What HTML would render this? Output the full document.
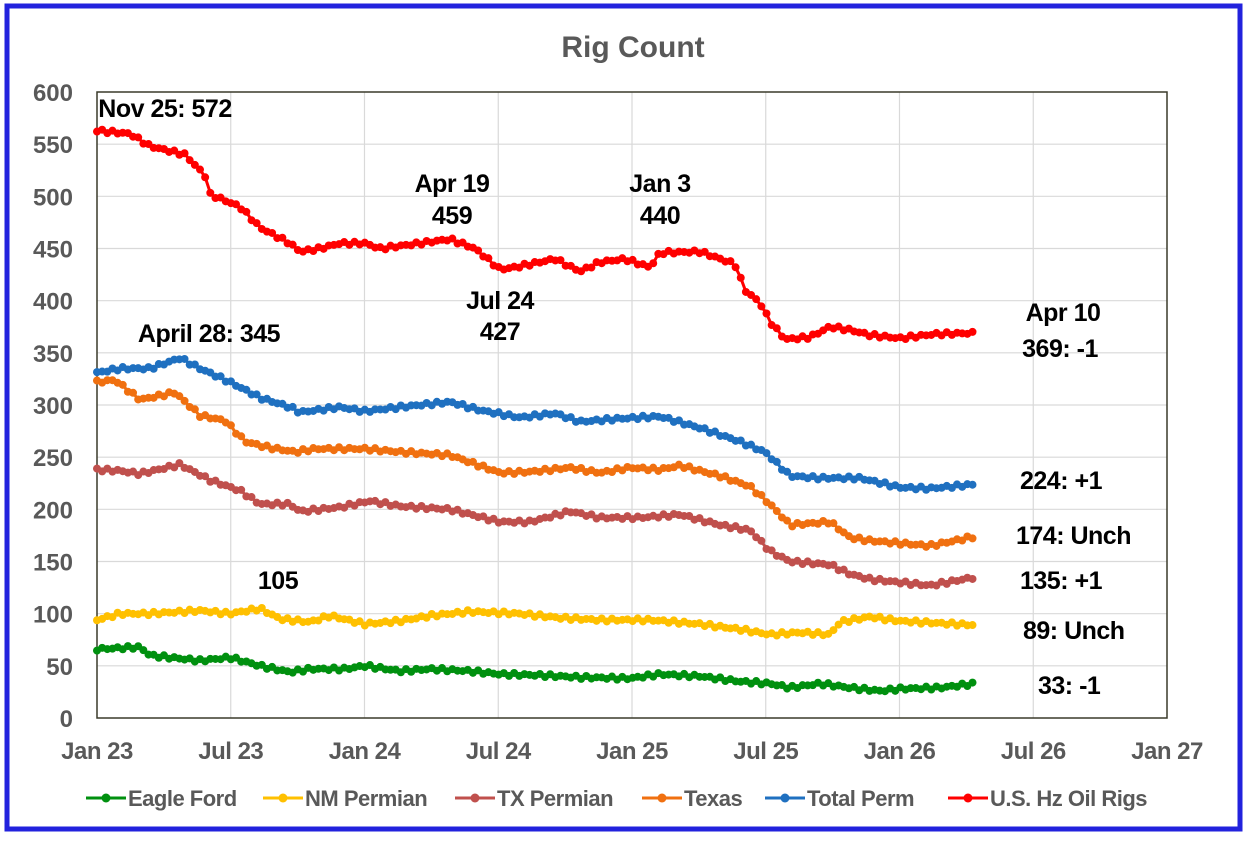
<!DOCTYPE html><html><head><style>body{margin:0;background:#fff}svg{display:block}text{font-family:"Liberation Sans",Arial,sans-serif;font-weight:bold}</style></head><body>
<svg id="s" width="1254" height="842" xmlns="http://www.w3.org/2000/svg">
<rect x="0" y="0" width="1254" height="842" fill="#fff"/>
<rect x="7" y="6" width="1233" height="823" fill="none" stroke="#2222dd" stroke-width="5"/>
<text x="633" y="57" font-size="30" fill="#595959" text-anchor="middle">Rig Count</text>
<g id="grid"></g>
<rect x="97" y="92" width="1070" height="626" fill="none" stroke="#3a3a2a" stroke-width="1.5"/>
<g id="series"></g>
<g font-size="25" fill="#000" text-anchor="middle" letter-spacing="-0.5">
<text x="165" y="117">Nov 25: 572</text>
<text x="209" y="342">April 28: 345</text>
<text x="452" y="192">Apr 19</text><text x="452" y="224">459</text>
<text x="500" y="309">Jul 24</text><text x="500" y="340">427</text>
<text x="660" y="192">Jan 3</text><text x="660" y="224">440</text>
<text x="278" y="589">105</text>
<text x="1063" y="321">Apr 10</text><text x="1060" y="357">369: -1</text>
</g>
<g font-size="25" fill="#000" letter-spacing="-0.5">
<text x="1020" y="489">224: +1</text>
<text x="1016" y="544">174: Unch</text>
<text x="1020" y="589">135: +1</text>
<text x="1023" y="639">89: Unch</text>
<text x="1038" y="694">33: -1</text>
</g>
<g id="leg" font-size="22" fill="#595959" letter-spacing="-0.5"></g>
</svg>
<script>
var NS="http://www.w3.org/2000/svg",g=document.getElementById('grid'),S=document.getElementById('series');
function el(t,a,p){var e=document.createElementNS(NS,t);for(var k in a)e.setAttribute(k,a[k]);(p||g).appendChild(e);return e}
function Y(v){return 718-v*626/600}
for(var i=1;i<12;i++)el('line',{x1:97,x2:1167,y1:Y(i*50),y2:Y(i*50),stroke:'#d9d9d9','stroke-width':1.2});
var xl=['Jan 23','Jul 23','Jan 24','Jul 24','Jan 25','Jul 25','Jan 26','Jul 26','Jan 27'];
for(i=0;i<9;i++){var x=97+i*133.75;if(i>0&&i<8)el('line',{x1:x,x2:x,y1:92,y2:718,stroke:'#d9d9d9','stroke-width':1.2});
var t=el('text',{x:x,y:759,'font-size':24,fill:'#595959','text-anchor':'middle','letter-spacing':'-0.5'});t.textContent=xl[i];}
for(i=0;i<=12;i++){var t=el('text',{x:73,y:Y(i*50)+9,'font-size':24,fill:'#595959','text-anchor':'end'});t.textContent=i*50;}
var D=[
['#00900f',[[97,66],[140,68],[150,60],[200,55],[230,58],[260,50],[290,44],[310,47],[345,47],[365,50],[400,45],[430,47],[470,45],[500,42],[540,41],[580,39],[630,38],[660,42],[700,40],[740,35],[770,33],[790,29],[820,33],[850,29],[880,26],[900,28],[940,29],[975,33]]],
['#ffc000',[[97,94],[120,100],[150,100],[200,103],[230,100],[260,105],[280,95],[310,92],[330,98],[365,90],[400,93],[430,98],[470,102],[520,100],[560,96],[600,94],[650,94],[700,90],[740,85],[770,80],[800,82],[830,80],[840,92],[870,97],[900,93],[975,89]]],
['#c0504d',[[97,238],[120,237],[140,234],[180,243],[210,228],[240,218],[260,205],[290,205],[300,198],[340,202],[370,208],[400,203],[450,200],[500,188],[530,188],[570,198],[600,192],[640,192],[680,195],[720,185],[750,180],[770,160],[790,150],[830,147],[850,138],[870,133],[900,130],[930,127],[975,135]]],
['#f07010',[[97,322],[115,324],[140,305],[175,312],[200,290],[225,285],[245,265],[265,260],[295,255],[315,258],[365,258],[400,255],[450,252],[500,235],[530,236],[570,240],[600,235],[630,240],[660,238],[680,242],[720,232],[750,222],[770,205],[790,185],[830,188],[850,173],[870,170],[930,165],[975,174]]],
['#1f70c0',[[97,331],[120,335],[150,335],[180,345],[200,335],[230,322],[260,307],[290,298],[300,293],[340,298],[365,294],[400,298],[450,303],[480,295],[520,288],[555,292],[580,284],[620,287],[660,289],[700,278],[740,265],[765,255],[790,232],[820,230],[860,230],[900,221],[930,220],[975,224]]],
['#ff0000',[[97,563],[130,560],[150,548],[185,540],[205,520],[210,502],[240,490],[260,470],[290,455],[300,447],[320,450],[340,455],[365,455],[380,450],[420,455],[450,459],[475,450],[500,430],[515,432],[555,440],[580,428],[600,437],[625,440],[650,432],[660,446],[700,447],[735,435],[745,410],[760,398],[770,380],[785,363],[810,365],[830,375],[850,372],[870,367],[900,364],[935,368],[975,369]]]];
D.forEach(function(s,si){var k=s[1],pts=[];for(var x=97;x<=975.1;x+=5.15){var j=0;while(j<k.length-2&&k[j+1][0]<x)j++;var a=k[j],b=k[j+1],f=Math.min(1,Math.max(0,(x-a[0])/(b[0]-a[0])));var v=a[1]+(b[1]-a[1])*f+1.5*Math.sin(x*0.7+si);pts.push([x,Y(v)]);}
el('polyline',{points:pts.map(function(p){return p[0].toFixed(1)+','+p[1].toFixed(1)}).join(' '),fill:'none',stroke:s[0],'stroke-width':3},S);
pts.forEach(function(p){el('circle',{cx:p[0],cy:p[1],r:4,fill:s[0]},S)});});
var L=[['Eagle Ford',86],['NM Permian',263],['TX Permian',455],['Texas',642],['Total Perm',765],['U.S. Hz Oil Rigs',948]],lg=document.getElementById('leg');
L.forEach(function(l,i){var x=l[1];el('line',{x1:x,x2:x+40,y1:798,y2:798,stroke:D[i][0],'stroke-width':3},lg);el('circle',{cx:x+20,cy:798,r:4.5,fill:D[i][0]},lg);var t=el('text',{x:x+42,y:806},lg);t.textContent=l[0];});
</script></body></html>
